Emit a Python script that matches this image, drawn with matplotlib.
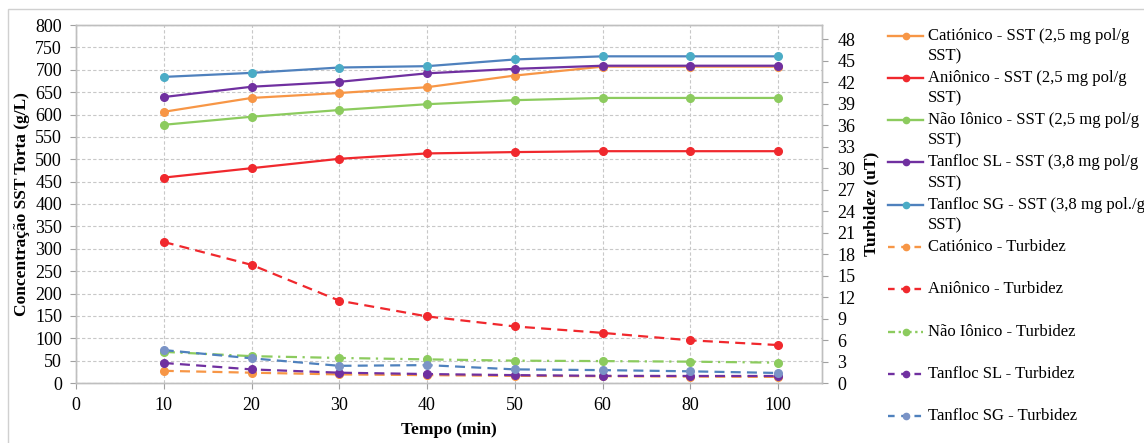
import matplotlib
matplotlib.use("Agg")
import matplotlib.pyplot as plt
from matplotlib.lines import Line2D
from matplotlib.patches import Rectangle

plt.rcParams['font.family'] = ['Liberation Serif', 'DejaVu Serif']

tempo = ["0", "10", "20", "30", "40", "50", "60", "80", "100"]
tempo_dados = ["10", "20", "30", "40", "50", "60", "80", "100"]

# SST (g/L) - left axis
cat_sst = [606, 637, 648, 661, 687, 707, 707, 707]
ani_sst = [459, 480, 501, 513, 516, 518, 518, 518]
nao_sst = [577, 595, 610, 623, 632, 637, 637, 637]
sl_sst = [639, 662, 673, 692, 702, 709, 709, 709]
sg_sst = [684, 693, 705, 708, 723, 730, 730, 730]

# Turbidez (uT) - right axis
cat_tur = [1.7, 1.44, 1.2, 1.1, 1.0, 0.95, 0.9, 0.85]
ani_tur = [19.7, 16.5, 11.5, 9.3, 7.9, 7.0, 5.96, 5.3]
nao_tur = [4.35, 3.75, 3.5, 3.3, 3.12, 3.06, 2.98, 2.84]
sl_tur = [2.8, 1.9, 1.44, 1.25, 1.1, 1.0, 0.98, 0.98]
sg_tur = [4.6, 3.45, 2.4, 2.5, 1.9, 1.8, 1.63, 1.4]

W, H = 1144, 443
fig = plt.figure(figsize=(W / 100, H / 100), dpi=100)
fig.patch.set_facecolor('white')
# outer chart border (cropped at right/bottom)
fig.add_artist(Rectangle((8 / W, -0.1), 1.2, (H - 9) / H + 0.1, transform=fig.transFigure,
                         fill=False, edgecolor='#D0D0D0', lw=1.0))

ax = fig.add_axes([76 / W, (H - 383) / H, (822 - 76) / W, (383 - 25) / H])
ax2 = ax.twinx()

xpos = [tempo.index(t) for t in tempo_dados]

C_OR = '#F79646'
C_RD = '#F0282D'
C_GR = '#8CCB5E'
C_PU = '#7030A0'
C_BL = '#4F81BD'
C_BLM = '#4BACC6'
C_BLT = '#7A93C6'

lw = 1.6
ms = 5.5
dash = (0, (4.5, 2.8))
dashdot = (0, (5, 2.5, 1, 2.5))
styles_sst = [
    (cat_sst, C_OR, C_OR),
    (ani_sst, C_RD, C_RD),
    (nao_sst, C_GR, C_GR),
    (sl_sst, C_PU, C_PU),
    (sg_sst, C_BL, C_BLM),
]
for vals, c, mc in styles_sst:
    ax.plot(xpos, vals, '-', color=c, lw=lw, marker='o', ms=ms, mfc=mc, mec=mc, zorder=3)

styles_tur = [
    (cat_tur, C_OR, C_OR, dash),
    (ani_tur, C_RD, C_RD, dash),
    (nao_tur, C_GR, C_GR, dashdot),
    (sl_tur, C_PU, C_PU, dash),
    (sg_tur, C_BL, C_BLT, dash),
]
for vals, c, mc, ls in styles_tur:
    ax2.plot(xpos, vals, color=c, lw=lw, ls=ls, marker='o', ms=ms, mfc=mc, mec=mc, zorder=3)

ax.set_xlim(0, 8.5)
ax.set_ylim(0, 800)
ax2.set_ylim(0, 50)
ax.set_xticks(range(len(tempo)))
ax.set_xticklabels(tempo)
ax.set_yticks(range(0, 801, 50))
ax2.set_yticks(range(0, 49, 3))

fs = 13
ax.tick_params(axis='both', labelsize=fs, direction='out', length=4, color='#A0A0A0', width=0.8)
ax2.tick_params(axis='y', labelsize=fs, direction='out', length=4, color='#A0A0A0', width=0.8)
ax.tick_params(axis='y', pad=6)
ax2.tick_params(axis='y', pad=7)
ax.tick_params(axis='x', pad=6)

for a in (ax, ax2):
    for s in a.spines.values():
        s.set_color('#BFBFBF')
        s.set_linewidth(1.0)

ax.grid(True, which='major', axis='both', color='#C8C8C8', ls=(0, (3, 2)), lw=0.8)
ax.set_axisbelow(True)

lfs = 12.5
ax.set_ylabel('Concentração SST Torta (g/L)', fontsize=lfs, fontweight='bold', labelpad=4)
ax2.set_ylabel('Turbidez (uT)', fontsize=lfs, fontweight='bold', labelpad=6)
ax.set_xlabel('Tempo (min)', fontsize=lfs, fontweight='bold', labelpad=6)

# legend drawn manually to mimic spreadsheet layout
dash_l = (0, (2.8, 2.8))
leg_items = [
    (C_OR, C_OR, '-', ['Catiónico - SST (2,5 mg pol/g', 'SST)']),
    (C_RD, C_RD, '-', ['Aniônico - SST (2,5 mg pol/g', 'SST)']),
    (C_GR, C_GR, '-', ['Não Iônico - SST (2,5 mg pol/g', 'SST)']),
    (C_PU, C_PU, '-', ['Tanfloc SL - SST (3,8 mg pol/g', 'SST)']),
    (C_BL, C_BLM, '-', ['Tanfloc SG - SST (3,8 mg pol./g', 'SST)']),
    (C_OR, C_OR, dash_l, ['Catiónico - Turbidez']),
    (C_RD, C_RD, dash_l, ['Aniônico - Turbidez']),
    (C_GR, C_GR, (0, (3, 1.5, 1, 1.5)), ['Não Iônico - Turbidez']),
    (C_PU, C_PU, dash_l, ['Tanfloc SL - Turbidez']),
    (C_BL, C_BLT, dash_l, ['Tanfloc SG - Turbidez']),
]
y0 = 35.5
dy = 42.3
for i, (c, mc, ls, lines) in enumerate(leg_items):
    y = y0 + i * dy
    yf = 1 - y / H
    fig.add_artist(Line2D([888 / W, 923 / W], [yf, yf], transform=fig.transFigure,
                          color=c, lw=1.7, ls=ls))
    fig.add_artist(Line2D([905.5 / W], [yf], transform=fig.transFigure,
                          color=mc, marker='o', ms=4.5, ls='none'))
    for j, t in enumerate(lines):
        fig.text(928 / W, 1 - (y + j * 20.5) / H, t, fontsize=12, va='center', ha='left')

fig.savefig('out.png', dpi=100, facecolor='white')
